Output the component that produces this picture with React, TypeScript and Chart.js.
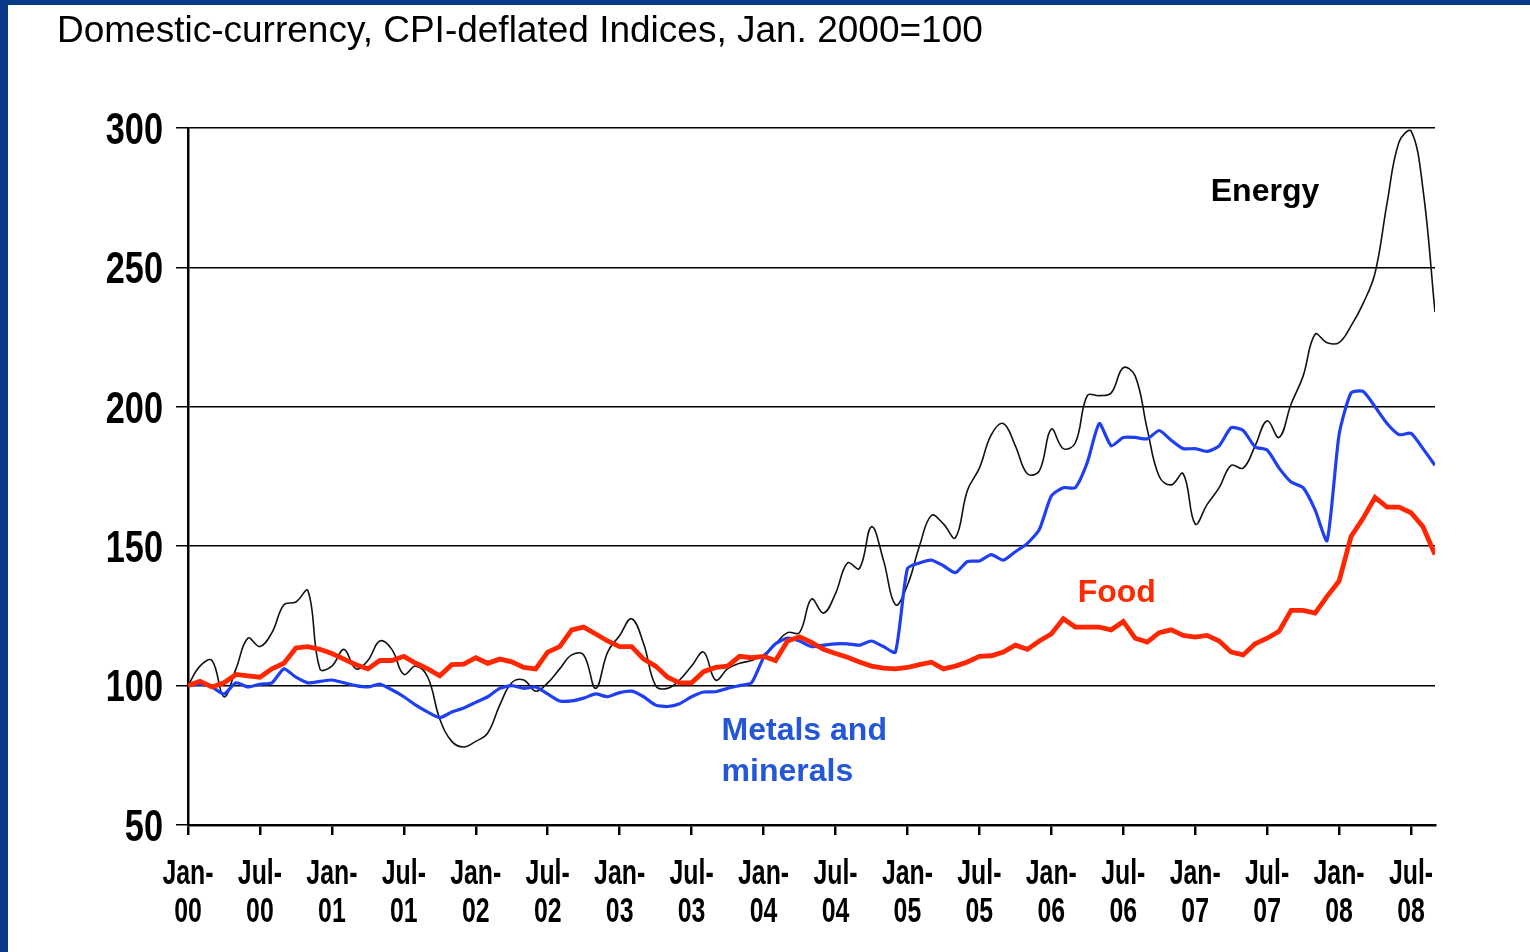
import { useEffect, useRef } from "react";
import { Chart, registerables } from "chart.js";

Chart.register(...registerables);

// Monthly indices, Jan-2000 (month 0) to Sep-2008 (month 104)
const energy = [
  100, 107, 109, 96, 106, 117, 114, 119, 129, 130, 134, 106,
  107, 113, 106, 109, 116, 113, 104, 107, 103, 88, 80, 78,
  80, 83, 93, 101, 102, 98, 101, 106, 111, 111, 99, 112,
  118, 124, 115, 100, 99, 102, 107, 112, 102, 106, 108, 109,
  111, 115, 119, 119, 131, 126, 133, 144, 142, 157, 145, 129,
  136, 150, 161, 158, 153, 170, 178, 190, 194, 186, 176, 177,
  192, 185, 187, 204, 204, 205, 214, 211, 192, 175, 172, 176,
  158, 165, 171, 179, 178, 186, 195, 189, 201, 211, 226, 223,
  223, 229, 237, 248, 273, 295, 299, 278, 234,
];

const metals = [
  100, 100.5, 99.5, 97, 101, 99.5, 100.5, 101, 106, 103, 101, 101.5,
  102, 101, 100, 99.5, 100.5, 98.5, 96, 93, 90.5, 88.5, 90.5, 92,
  94, 96, 99, 100, 99, 99.5, 97, 94.5, 94.5, 95.5, 97, 96,
  97.5, 98, 96, 93, 92.5, 93.5, 96, 97.7, 97.8, 99, 100, 101,
  110, 115, 117, 116, 114, 114.5, 115, 115, 114.5, 116, 114, 112,
  142, 144, 145, 143, 140.5, 144.5, 144.7, 147, 145, 148, 151, 156,
  168, 171, 171, 180, 194, 186, 189, 189, 188.5, 191.5, 188, 185,
  185, 184, 186, 192.5, 191.5, 185.6, 184.5, 178, 173, 171, 163, 152,
  190, 205, 205.5, 200, 194, 190, 190.5, 185, 179,
];

const food = [
  100, 101.5, 99.5, 101, 104, 103.5, 103, 106, 108, 113.5, 114, 113,
  111.5, 109.5, 107.5, 106, 109, 109, 110.5, 108, 106, 103.5, 107.5, 107.7,
  110, 108, 109.5, 108.5, 106.5, 106, 112, 114, 120, 121, 118.5, 116,
  114, 114, 109.5, 107, 103, 101, 101, 105, 106.5, 107, 110.5, 110,
  110.5, 109, 116, 117.5, 115.5, 113, 111.5, 110.2, 108.5, 107, 106.3, 106,
  106.5, 107.5, 108.4, 106, 107, 108.5, 110.5, 110.7, 112, 114.5, 113, 116,
  118.5, 124, 121, 121, 121, 120, 123, 117, 115.6, 119, 120, 118,
  117.4, 118, 116, 112, 111, 115, 117, 119.5, 127, 127, 126, 132,
  137.5, 153.5, 160, 167.5, 164, 164, 162, 157, 147,
];

const xTickMonths = [0, 6, 12, 18, 24, 30, 36, 42, 48, 54, 60, 66, 72, 78, 84, 90, 96, 102];
const xTickLabels = [
  ["Jan-", "00"], ["Jul-", "00"], ["Jan-", "01"], ["Jul-", "01"], ["Jan-", "02"], ["Jul-", "02"],
  ["Jan-", "03"], ["Jul-", "03"], ["Jan-", "04"], ["Jul-", "04"], ["Jan-", "05"], ["Jul-", "05"],
  ["Jan-", "06"], ["Jul-", "06"], ["Jan-", "07"], ["Jul-", "07"], ["Jan-", "08"], ["Jul-", "08"],
];
const yTicks = [50, 100, 150, 200, 250, 300];

const seriesLabels = ["Energy", "Metals and minerals", "Food"];
const annotations = [
  { lines: ["Energy"], month: 85.3, value: 277, color: "#000000" },
  { lines: ["Food"], month: 74.2, value: 133, color: "#ff2a00" },
  { lines: ["Metals and", "minerals"], month: 44.5, value: 83.7, color: "#2356d8" },
];

const TITLE = "Domestic-currency, CPI-deflated Indices, Jan. 2000=100";
const SANS = "'Liberation Sans', Arial, sans-serif";

const toPoints = (arr: number[]) => arr.map((v, i) => ({ x: i, y: v }));

const annotationPlugin = {
  id: "seriesNames",
  afterDatasetsDraw(chart: any) {
    const { ctx, scales } = chart;
    ctx.save();
    ctx.font = `bold 32px ${SANS}`;
    ctx.textAlign = "left";
    ctx.textBaseline = "middle";
    annotations.forEach((a) => {
      const x = scales.x.getPixelForValue(a.month);
      const y = scales.y.getPixelForValue(a.value);
      ctx.fillStyle = a.color;
      a.lines.forEach((t, i) => ctx.fillText(t, x, y + i * 41));
    });
    ctx.restore();
  },
};

// Narrow (condensed) tick labels, positioned from the chart's own scales
const condensedTicksPlugin = {
  id: "condensedTicks",
  afterDraw(chart: any) {
    const { ctx, scales, chartArea } = chart;
    const xs = scales.x;
    const ys = scales.y;
    ctx.save();
    ctx.fillStyle = "#000";

    const ySize = 44;
    ctx.font = `bold ${ySize}px ${SANS}`;
    ctx.textAlign = "right";
    ctx.textBaseline = "alphabetic";
    ys.ticks.forEach((t: any) => {
      const py = ys.getPixelForValue(t.value);
      ctx.save();
      ctx.translate(chartArea.left - 25, py + ySize * 0.358);
      ctx.scale(0.78, 1);
      ctx.fillText(String(t.value), 0, 0);
      ctx.restore();
    });

    const xSize = 35;
    ctx.font = `bold ${xSize}px ${SANS}`;
    ctx.textAlign = "center";
    xs.ticks.forEach((t: any, i: number) => {
      const px = xs.getPixelForValue(t.value);
      const lines = xTickLabels[i];
      lines.forEach((line, j) => {
        ctx.save();
        ctx.translate(px, chartArea.bottom + 59 + j * 38);
        ctx.scale(0.71, 1);
        ctx.fillText(line, 0, 0);
        ctx.restore();
      });
    });
    ctx.restore();
  },
};

export default function App() {
  const ref = useRef<HTMLCanvasElement | null>(null);

  useEffect(() => {
    if (!ref.current) return;
    const chart = new Chart(ref.current, {
      type: "line",
      data: {
        datasets: [
          {
            label: seriesLabels[0],
            data: toPoints(energy),
            borderColor: "#111111",
            borderWidth: 1.6,
            pointRadius: 0,
            tension: 0.4,
            order: 3,
          },
          {
            label: seriesLabels[1],
            data: toPoints(metals),
            borderColor: "#1f3ff2",
            borderWidth: 3.2,
            pointRadius: 0,
            tension: 0.2,
            order: 2,
          },
          {
            label: seriesLabels[2],
            data: toPoints(food),
            borderColor: "#ff2600",
            borderWidth: 4.8,
            pointRadius: 0,
            tension: 0,
            order: 1,
          },
        ],
      },
      options: {
        animation: false,
        responsive: false,
        maintainAspectRatio: false,
        layout: { padding: { top: 128, right: 95, left: 0, bottom: 0 } },
        plugins: { legend: { display: false }, tooltip: { enabled: false }, title: { display: false } },
        scales: {
          x: {
            type: "linear",
            min: 0,
            max: 104,
            afterBuildTicks: (s: any) => {
              s.ticks = xTickMonths.map((v) => ({ value: v }));
            },
            afterFit: (s: any) => {
              s.height = 127;
            },
            ticks: { display: false, autoSkip: false, maxRotation: 0 },
            grid: { drawOnChartArea: false, drawTicks: true, tickLength: 10, color: "#000", lineWidth: 2.5 },
            border: { display: true, color: "#000", width: 2.5 },
          },
          y: {
            min: 50,
            max: 300,
            afterBuildTicks: (s: any) => {
              s.ticks = yTicks.map((v) => ({ value: v }));
            },
            afterFit: (s: any) => {
              s.width = 188;
            },
            ticks: { display: false },
            grid: { color: "#000", lineWidth: 1.5, tickLength: 12, drawTicks: true },
            border: { display: true, color: "#000", width: 2.5 },
          },
        },
      },
      plugins: [annotationPlugin, condensedTicksPlugin],
    } as any);
    return () => chart.destroy();
  }, []);

  return (
    <div style={{ position: "fixed", left: 0, top: 0, width: 1530, height: 952, background: "#ffffff", overflow: "hidden" }}>
      <canvas ref={ref} width={1530} height={952} style={{ position: "absolute", left: 0, top: 0, display: "block" }} />
      <div
        style={{
          position: "absolute",
          left: 57,
          top: 11,
          fontFamily: SANS,
          fontSize: 37,
          lineHeight: "37px",
          color: "#000",
          whiteSpace: "nowrap",
        }}
      >
        {TITLE}
      </div>
      <div style={{ position: "absolute", left: 0, top: 0, width: 1530, height: 5, background: "#0a3a8a" }} />
      <div style={{ position: "absolute", left: 0, top: 0, width: 8, height: 952, background: "#0a3a8a" }} />
    </div>
  );
}
